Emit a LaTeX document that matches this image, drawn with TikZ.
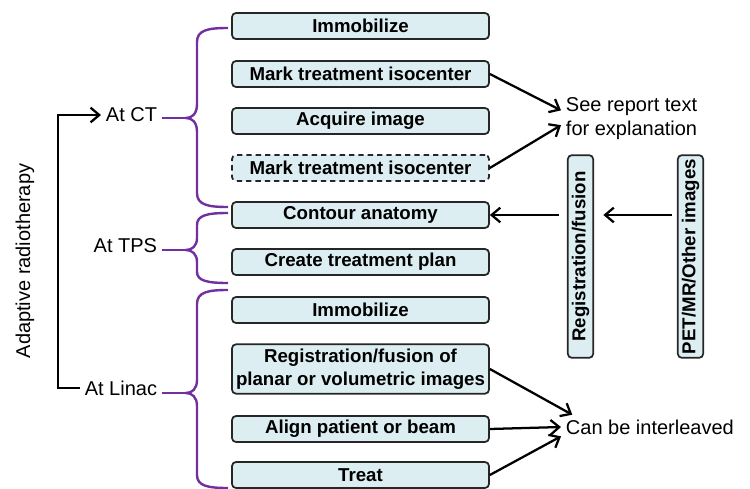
\documentclass[tikz,border=0pt]{standalone}
\usepackage{fontspec}
\setmainfont{Liberation Sans}
\usetikzlibrary{arrows.meta}

\definecolor{boxfill}{RGB}{220,238,241}
\definecolor{bracepurple}{RGB}{112,48,160}

\tikzset{every picture/.style={line width=0.75pt}}
\tikzset{
	stepbox/.style={draw=black!85, line width=1.3pt, fill=boxfill, rounded corners=3pt, minimum width=192.75pt, minimum height=19.5pt, inner sep=1pt, align=center, font=\fontsize{14}{17}\selectfont\bfseries},
	sidebox/.style={stepbox, minimum width=152pt, minimum height=19pt, rotate=90},
	plainlabel/.style={align=left, font=\fontsize{15}{18}\selectfont},
	bracepath/.style={draw=bracepurple, line width=1.8pt},
	arrowline/.style={line width=1.7pt, -{Straight Barb[length=6.5pt,width=11pt]}},
}

\begin{document}
\begin{tikzpicture}[x=0.75pt,y=0.75pt,yscale=-1,xscale=1]
	\useasboundingbox (0,0) rectangle (750,489);

	% Step boxes
	\node [stepbox] (imm1) at (360.5,26) {Immobilize};
	\node [stepbox] (mark1) at (360.5,74) {Mark treatment isocenter};
	\node [stepbox] (acq) at (360.5,121) {Acquire image};
	\node [stepbox, dashed, dash pattern={on 4pt off 3pt}] (mark2) at (360.5,168) {Mark treatment isocenter};
	\node [stepbox] (contour) at (360.5,215) {Contour anatomy};
	\node [stepbox] (plan) at (360.5,262) {Create treatment plan};
	\node [stepbox] (imm2) at (360.5,310) {Immobilize};
	\node [stepbox, minimum height=37pt] (regfus) at (360.5,369) {Registration/fusion of\\planar or volumetric images};
	\node [stepbox] (align) at (360.5,429) {Align patient or beam};
	\node [stepbox] (treat) at (360.5,475) {Treat};

	% Side boxes
	\node [sidebox] (reg) at (580.5,256.5) {Registration/fusion};
	\node [sidebox] (pet) at (690.5,256.5) {PET/MR/Other images};

	% Text Node
	\node [plainlabel, rotate=90] (adaptive) at (25,261) {Adaptive radiotherapy};
	% Text Node
	\node [plainlabel, anchor=east] (atCT) at (162,115) {At CT};
	% Text Node
	\node [plainlabel, anchor=east] (atTPS) at (162,246) {At TPS};
	% Text Node
	\node [plainlabel, anchor=east] (atLinac) at (162,388) {At Linac};
	% Text Node
	\node [plainlabel, anchor=west] (see) at (561,119) {See report text\\for explanation};
	% Text Node
	\node [plainlabel, anchor=west] (can) at (561,427) {Can be interleaved};

	% Brace tips
	\coordinate (ctTip) at (186,118);
	\coordinate (tpsTip) at (186,250);
	\coordinate (linacTip) at (186,393);

	%Shape: Brace
	\draw [bracepath] (228,28) .. controls (208,28) and (197,30) .. (197,42) -- (197,104) .. controls (197,114) and (192,118) .. (ctTip) .. controls (192,118) and (197,122) .. (197,132) -- (197,193) .. controls (197,205) and (208,207) .. (228,207) ;
	\draw [bracepath] (atCT.east |- ctTip) -- (ctTip) ;
	%Shape: Brace
	\draw [bracepath] (228,213) .. controls (208,213) and (197,215) .. (197,225) -- (197,238) .. controls (197,246) and (192,250) .. (tpsTip) .. controls (192,250) and (197,254) .. (197,262) -- (197,272) .. controls (197,281) and (208,283) .. (228,283) ;
	\draw [bracepath] (atTPS.east |- tpsTip) -- (tpsTip) ;
	%Shape: Brace
	\draw [bracepath] (228,290) .. controls (208,290) and (197,292) .. (197,304) -- (197,380) .. controls (197,389) and (192,393) .. (linacTip) .. controls (192,393) and (197,397) .. (197,406) -- (197,475) .. controls (197,486) and (208,488) .. (228,488) ;
	\draw [bracepath] (atLinac.east |- linacTip) -- (linacTip) ;

	%Straight Lines
	\draw [arrowline] (atLinac.west) -- ++(-22,0) |- (atCT.west) ;
	%Straight Lines
	\draw [arrowline] (mark1.east) -- (see.173) ;
	\draw [arrowline] (mark2.east) -- (see.185) ;
	%Straight Lines
	\draw [arrowline, shorten <=4pt, shorten >=7pt] (pet.north |- contour.east) -- (reg.south |- contour.east) ;
	\draw [arrowline, shorten <=6pt] (reg.north |- contour.east) -- (contour.east) ;
	%Straight Lines
	\draw [arrowline] (regfus.east) -- (can.171) ;
	\draw [arrowline] (align.east) -- (can.west) ;
	\draw [arrowline] (treat.east) -- (can.186) ;

\end{tikzpicture}
\end{document}
